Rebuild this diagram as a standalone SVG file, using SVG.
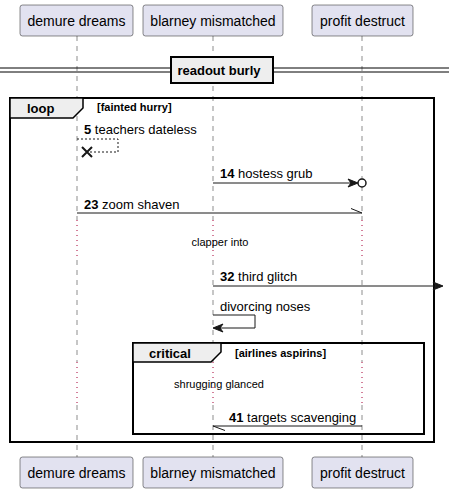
<svg xmlns="http://www.w3.org/2000/svg" width="449" height="494" viewBox="0 0 449 494">
<style>
.part rect{fill:#E2E2F0;stroke:#181818;stroke-width:0.5}
.part text{font-family:"Liberation Sans",Arial,sans-serif;font-size:14px;fill:#000;text-anchor:middle}
.life{stroke:#181818;stroke-width:0.5;stroke-dasharray:5 5;fill:none}
.delay{stroke:#A80036;stroke-width:1;stroke-dasharray:1 4;fill:none}
.msg{stroke:#181818;stroke-width:1;fill:none}
.head{fill:#181818;stroke:#181818;stroke-width:1}
.t{font-family:"Liberation Sans",Arial,sans-serif;font-size:13px;fill:#000}
.b{font-weight:bold}
.small{font-family:"Liberation Sans",Arial,sans-serif;font-size:11px;fill:#000}
.frame{fill:none;stroke:#000;stroke-width:2}
.tab{fill:#EEEEEE;stroke:#000;stroke-width:1.5}
</style>
<g id="lifelines">
<line class="life" x1="77" y1="36" x2="77" y2="220"/>
<line class="delay" x1="77" y1="220" x2="77" y2="260"/>
<line class="life" x1="77" y1="260" x2="77" y2="362"/>
<line class="delay" x1="77" y1="362" x2="77" y2="405"/>
<line class="life" x1="77" y1="405" x2="77" y2="457"/>
<line class="life" x1="213" y1="36" x2="213" y2="220"/>
<line class="delay" x1="213" y1="220" x2="213" y2="260"/>
<line class="life" x1="213" y1="260" x2="213" y2="362"/>
<line class="delay" x1="213" y1="362" x2="213" y2="405"/>
<line class="life" x1="213" y1="405" x2="213" y2="457"/>
<line class="life" x1="362" y1="36" x2="362" y2="220"/>
<line class="delay" x1="362" y1="220" x2="362" y2="260"/>
<line class="life" x1="362" y1="260" x2="362" y2="362"/>
<line class="delay" x1="362" y1="362" x2="362" y2="405"/>
<line class="life" x1="362" y1="405" x2="362" y2="457"/>
</g>
<g id="p-demure" class="part">
<rect x="20" y="5" width="113" height="31" rx="2.5"/>
<text x="76.5" y="26">demure dreams</text>
<rect x="20" y="457" width="113" height="31" rx="2.5"/>
<text x="76.5" y="478">demure dreams</text>
</g>
<g id="p-blarney" class="part">
<rect x="143" y="5" width="140" height="31" rx="2.5"/>
<text x="213" y="26">blarney mismatched</text>
<rect x="143" y="457" width="140" height="31" rx="2.5"/>
<text x="213" y="478">blarney mismatched</text>
</g>
<g id="p-profit" class="part">
<rect x="312" y="5" width="101" height="31" rx="2.5"/>
<text x="362.5" y="26">profit destruct</text>
<rect x="312" y="457" width="101" height="31" rx="2.5"/>
<text x="362.5" y="478">profit destruct</text>
</g>
<g id="divider">
<line x1="0" y1="68" x2="449" y2="68" stroke="#000" stroke-width="1"/>
<line x1="0" y1="72" x2="449" y2="72" stroke="#000" stroke-width="1"/>
<rect x="171" y="57" width="102" height="26" fill="#EEEEEE" stroke="#000" stroke-width="2"/>
<text class="t b" x="219" y="75" text-anchor="middle">readout burly</text>
</g>
<g id="loop">
<rect class="frame" x="10" y="98" width="424" height="344"/>
<path class="tab" d="M10,98 H83 V108 L73,118 H10 Z"/>
<text class="t b" x="27" y="113">loop</text>
<text class="small b" x="97" y="111">[fainted hurry]</text>
</g>
<g id="critical">
<rect class="frame" x="133" y="343" width="291" height="91"/>
<path class="tab" d="M133,343 H221 V352 L211,362 H133 Z"/>
<text class="t b" x="149" y="358">critical</text>
<text class="small b" x="235" y="357">[airlines aspirins]</text>
</g>
<g id="connectors">
<path d="M77,139 H118 V152 H87" fill="none" stroke="#181818" stroke-width="1" stroke-dasharray="2 2"/>
<path d="M82,147 L92,157 M82,157 L92,147" stroke="#181818" stroke-width="2"/>
<text class="t" x="84" y="134"><tspan class="b">5</tspan> teachers dateless</text>
<line class="msg" x1="213" y1="183" x2="356" y2="183"/>
<polygon class="head" points="358,183 348,179 351,183 348,187"/>
<circle cx="362" cy="183" r="4" fill="#fff" stroke="#181818" stroke-width="1.5"/>
<text class="t" x="220" y="178"><tspan class="b">14</tspan> hostess grub</text>
<line class="msg" x1="77" y1="213" x2="362" y2="213"/>
<line class="msg" x1="351" y1="208.5" x2="362" y2="213"/>
<text class="t" x="84" y="209"><tspan class="b">23</tspan> zoom shaven</text>
<text class="small" x="220" y="246" text-anchor="middle">clapper into</text>
<line class="msg" x1="213" y1="286" x2="441" y2="286"/>
<polygon class="head" points="443,286 433,282 436,286 433,290"/>
<text class="t" x="220" y="281"><tspan class="b">32</tspan> third glitch</text>
<path class="msg" d="M213,315 H255 V328 H215"/>
<polygon class="head" points="213,328 223,324 220,328 223,332"/>
<text class="t" x="220" y="311">divorcing noses</text>
<text class="small" x="219" y="388" text-anchor="middle">shrugging glanced</text>
<line class="msg" x1="362" y1="426" x2="213" y2="426"/>
<line class="msg" x1="213" y1="426" x2="225" y2="430.5"/>
<text class="t" x="229" y="422"><tspan class="b">41</tspan> targets scavenging</text>
</g>
</svg>
